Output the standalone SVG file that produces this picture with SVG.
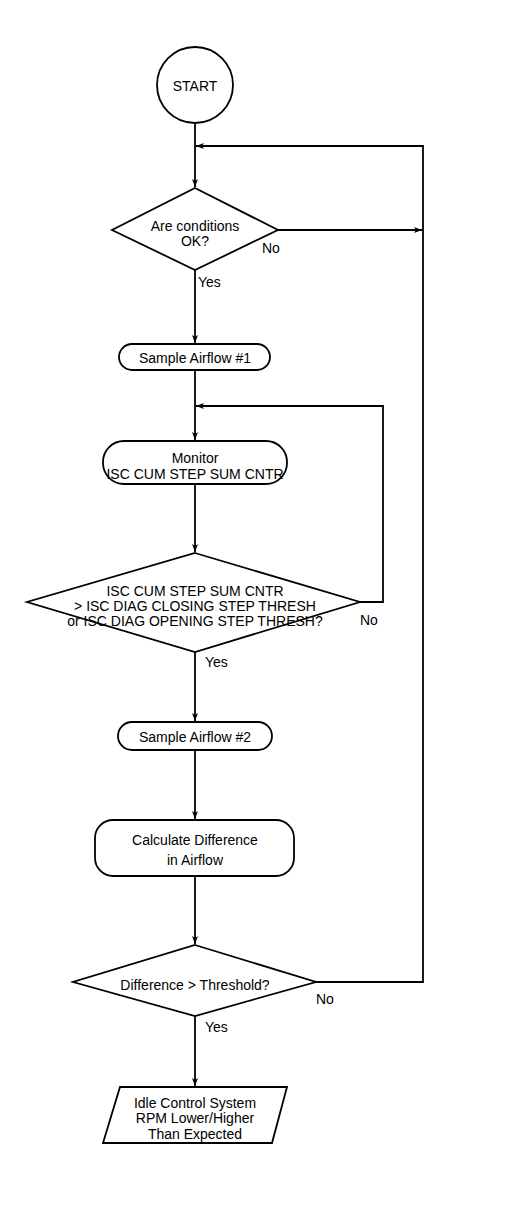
<svg xmlns="http://www.w3.org/2000/svg" width="512" height="1214" viewBox="0 0 512 1214">
<style>
.s{fill:#fff;stroke:#000;stroke-width:1.8}
.c{fill:none;stroke:#000;stroke-width:1.8}
text{font-family:"Liberation Sans",Arial,sans-serif;font-size:14px;fill:#000}
.m{text-anchor:middle}
</style>
<defs>
<marker id="a" markerUnits="userSpaceOnUse" markerWidth="10" markerHeight="8" refX="8" refY="4" orient="auto">
<path d="M0,1 L8,4 L0,7 L2,4 Z" fill="#000"/>
</marker>
</defs>
<rect width="512" height="1214" fill="#fff"/>
<g id="connectors">
<path class="c" d="M195,124 V187" marker-end="url(#a)"/>
<path class="c" d="M278,230 H422" marker-end="url(#a)"/>
<path class="c" d="M316,982 H423 V146 H196" marker-end="url(#a)"/>
<path class="c" d="M195,270 V343" marker-end="url(#a)"/>
<path class="c" d="M195,370 V440" marker-end="url(#a)"/>
<path class="c" d="M360,602 H383 V406 H196" marker-end="url(#a)"/>
<path class="c" d="M195,484 V552" marker-end="url(#a)"/>
<path class="c" d="M195,652 V721" marker-end="url(#a)"/>
<path class="c" d="M195,750 V819" marker-end="url(#a)"/>
<path class="c" d="M195,876 V944" marker-end="url(#a)"/>
<path class="c" d="M195,1016 V1086" marker-end="url(#a)"/>
</g>
<g id="start">
<circle class="s" cx="195" cy="85" r="38"/>
<text class="m" x="195" y="91">START</text>
</g>
<g id="cond">
<path class="s" d="M195,188 L278,230 L195,270 L112,230 Z"/>
<text class="m" x="195" y="231">Are conditions</text>
<text class="m" x="195" y="246">OK?</text>
<text x="262" y="253">No</text>
<text x="198" y="287">Yes</text>
</g>
<g id="sample1">
<rect class="s" x="119" y="344" width="151" height="26" rx="13"/>
<text class="m" x="195" y="363">Sample Airflow #1</text>
</g>
<g id="monitor">
<rect class="s" x="103" y="441" width="184" height="43" rx="21"/>
<text class="m" x="195" y="463">Monitor</text>
<text class="m" x="195" y="479">ISC CUM STEP SUM CNTR</text>
</g>
<g id="stepcheck">
<path class="s" d="M195,553 L360,602 L195,652 L27,602 Z"/>
<text class="m" x="195" y="596">ISC CUM STEP SUM CNTR</text>
<text class="m" x="195" y="611">&gt; ISC DIAG CLOSING STEP THRESH</text>
<text class="m" x="195" y="626">or ISC DIAG OPENING STEP THRESH?</text>
<text x="360" y="625">No</text>
<text x="205" y="667">Yes</text>
</g>
<g id="sample2">
<rect class="s" x="118" y="722" width="154" height="28" rx="14"/>
<text class="m" x="195" y="742">Sample Airflow #2</text>
</g>
<g id="calc">
<rect class="s" x="95" y="820" width="199" height="56" rx="18"/>
<text class="m" x="195" y="845">Calculate Difference</text>
<text class="m" x="195" y="865">in Airflow</text>
</g>
<g id="diffcheck">
<path class="s" d="M195,945 L316,982 L195,1016 L73,982 Z"/>
<text class="m" x="195" y="990">Difference &gt; Threshold?</text>
<text x="316" y="1004">No</text>
<text x="205" y="1032">Yes</text>
</g>
<g id="result">
<path class="s" d="M120,1087 L287,1087 L272,1143 L103,1143 Z"/>
<text class="m" x="195" y="1108">Idle Control System</text>
<text class="m" x="195" y="1123">RPM Lower/Higher</text>
<text class="m" x="195" y="1139">Than Expected</text>
</g>
</svg>
